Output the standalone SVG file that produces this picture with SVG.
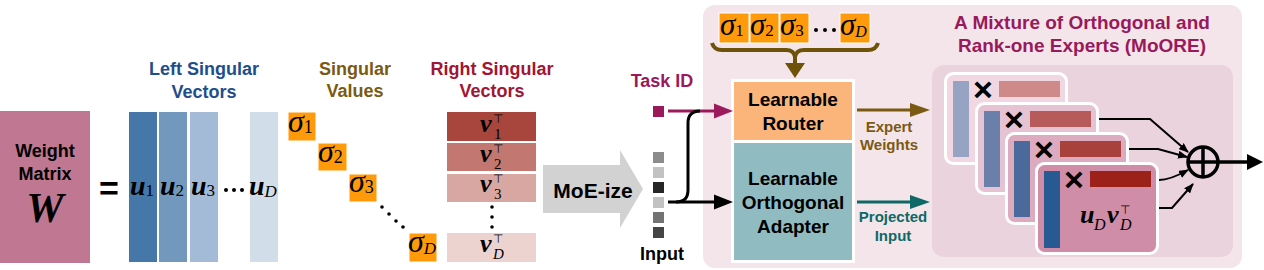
<svg xmlns="http://www.w3.org/2000/svg" width="1264" height="270" viewBox="0 0 1264 270">
<defs>
<style>
.lbl{font-family:"Liberation Sans",Arial,sans-serif;font-weight:bold;text-anchor:middle}
.m{font-family:"Liberation Serif","DejaVu Serif",serif;font-style:italic}
.mb{font-family:"Liberation Serif","DejaVu Serif",serif;font-style:italic;font-weight:bold}
.up{font-style:normal;font-weight:normal}
.itn{font-style:italic;font-weight:normal}
.tp{font-family:"DejaVu Sans",sans-serif;font-size:12px}
.sig{fill:#FF9A0A;stroke:#fff;stroke-width:1}
.mul{font-family:"Liberation Sans",Arial,sans-serif;font-weight:bold;font-size:34px;text-anchor:middle}
.card{stroke:#fff;stroke-width:3}
</style>
<marker id="sm" viewBox="0 0 10 8" markerWidth="10" markerHeight="8" refX="9" refY="4" orient="auto" markerUnits="userSpaceOnUse"><path d="M0,0L10,4L0,8z" fill="#000"/></marker>
</defs>
<rect width="1264" height="270" fill="#fff"/>

<!-- Weight matrix -->
<g id="weight-matrix">
<rect x="0" y="111" width="90" height="152" fill="#C07792"/>
<text class="lbl" x="45" y="157" font-size="18">Weight</text>
<text class="lbl" x="45" y="180" font-size="18">Matrix</text>
<text class="mb" x="45" y="222" font-size="42" text-anchor="middle">W</text>
</g>
<g id="equals"><text class="lbl" x="109" y="200" font-size="34">=</text></g>

<!-- Left singular vectors -->
<g id="left-singular-vectors">
<text class="lbl" x="204" y="75" font-size="18" fill="#1F4E8C">Left Singular</text>
<text class="lbl" x="204" y="98" font-size="18" fill="#1F4E8C">Vectors</text>
<rect x="129" y="112" width="28" height="150" fill="#4577A8"/>
<rect x="159" y="112" width="28" height="150" fill="#7398BE"/>
<rect x="190" y="112" width="28" height="150" fill="#A3BBD6"/>
<rect x="250" y="112" width="28" height="150" fill="#D1DDE8"/>
<text class="mb" x="130" y="195" font-size="28">u<tspan class="up" font-size="17" dy="1">1</tspan></text>
<text class="mb" x="160" y="195" font-size="28">u<tspan class="up" font-size="17" dy="1">2</tspan></text>
<text class="mb" x="191" y="195" font-size="28">u<tspan class="up" font-size="17" dy="1">3</tspan></text>
<circle cx="226" cy="190" r="2"/><circle cx="234" cy="190" r="2"/><circle cx="242" cy="190" r="2"/>
<text class="mb" x="249" y="195" font-size="28">u<tspan class="itn" font-size="17" dy="2">D</tspan></text>
</g>

<!-- Singular values -->
<g id="singular-values">
<text class="lbl" x="355" y="75" font-size="18" fill="#7A5A12">Singular</text>
<text class="lbl" x="355" y="97" font-size="18" fill="#7A5A12">Values</text>
<rect class="sig" x="288" y="112" width="28" height="29"/>
<rect class="sig" x="318" y="143" width="29" height="28"/>
<rect class="sig" x="349" y="174" width="28" height="28"/>
<rect class="sig" x="409" y="233" width="28" height="29"/>
<text class="m" x="288" y="132" font-size="32">σ<tspan class="up" font-size="18" dy="1">1</tspan></text>
<text class="m" x="318" y="162" font-size="32">σ<tspan class="up" font-size="18" dy="1">2</tspan></text>
<text class="m" x="349" y="192" font-size="32">σ<tspan class="up" font-size="18" dy="1">3</tspan></text>
<text class="m" x="408" y="252" font-size="32">σ<tspan font-size="17" dy="2">D</tspan></text>
<circle cx="382" cy="207" r="1.8"/><circle cx="389" cy="214" r="1.8"/><circle cx="396" cy="221" r="1.8"/><circle cx="403" cy="227" r="1.8"/>
</g>

<!-- Right singular vectors -->
<g id="right-singular-vectors">
<text class="lbl" x="492" y="75" font-size="18" fill="#A31532">Right Singular</text>
<text class="lbl" x="492" y="97" font-size="18" fill="#A31532">Vectors</text>
<rect x="447" y="112" width="89" height="29" fill="#A8463E"/>
<rect x="447" y="143" width="89" height="28" fill="#C27870"/>
<rect x="447" y="174" width="89" height="28" fill="#D8A7A1"/>
<rect x="447" y="233" width="89" height="29" fill="#EDD3D0"/>
<text class="mb" x="480" y="132" font-size="26">v</text><text class="tp" x="493" y="123">⊤</text><text class="m up" x="494" y="139" font-size="15">1</text>
<text class="mb" x="480" y="162" font-size="26">v</text><text class="tp" x="493" y="153">⊤</text><text class="m up" x="494" y="169" font-size="15">2</text>
<text class="mb" x="480" y="192" font-size="26">v</text><text class="tp" x="493" y="183">⊤</text><text class="m up" x="494" y="199" font-size="15">3</text>
<circle cx="492" cy="207" r="1.8"/><circle cx="492" cy="217" r="1.8"/><circle cx="492" cy="227" r="1.8"/>
<text class="mb" x="480" y="252" font-size="26">v</text><text class="tp" x="493" y="243">⊤</text><text class="m" x="493" y="259" font-size="15">D</text>
</g>

<!-- MoE-ize arrow -->
<g id="moe-ize">
<polygon points="543,165 620,165 620,150 643,189 620,228 620,213 543,213" fill="#D2D2D2"/>
<text class="lbl" x="593" y="198" font-size="21">MoE-ize</text>
</g>

<!-- Task ID and input -->
<g id="task-id">
<text class="lbl" x="662" y="87" font-size="18" fill="#99195A">Task ID</text>
<rect x="653" y="106" width="11" height="11" fill="#99195A"/>
</g>
<g id="input">
<rect x="653" y="152" width="11" height="11" fill="#8C8C8C"/>
<rect x="653" y="167" width="11" height="11" fill="#C2C2C2"/>
<rect x="653" y="182" width="11" height="11" fill="#262626"/>
<rect x="653" y="197" width="11" height="11" fill="#C2C2C2"/>
<rect x="653" y="212" width="11" height="11" fill="#737373"/>
<rect x="653" y="227" width="11" height="11" fill="#454545"/>
<text class="lbl" x="662" y="260" font-size="18">Input</text>
</g>

<!-- MoORE panel -->
<g id="moore-panel">
<rect x="703" y="5" width="539" height="263" rx="12" fill="#F4E5EB"/>
<text class="lbl" x="1082" y="29" font-size="19" fill="#99195A">A Mixture of Orthogonal and</text>
<text class="lbl" x="1082" y="52" font-size="19" fill="#99195A">Rank-one Experts (MoORE)</text>
</g>

<g id="sigma-row">
<rect class="sig" x="719" y="13" width="30" height="30"/>
<rect class="sig" x="750" y="13" width="29" height="30"/>
<rect class="sig" x="780" y="13" width="29" height="30"/>
<rect class="sig" x="840" y="13" width="30" height="30"/>
<text class="m" x="720" y="35" font-size="31">σ<tspan class="up" font-size="17" dy="1">1</tspan></text>
<text class="m" x="750" y="35" font-size="31">σ<tspan class="up" font-size="17" dy="1">2</tspan></text>
<text class="m" x="780" y="35" font-size="31">σ<tspan class="up" font-size="17" dy="1">3</tspan></text>
<circle cx="816" cy="30" r="2"/><circle cx="825" cy="30" r="2"/><circle cx="834" cy="30" r="2"/>
<text class="m" x="840" y="35" font-size="31">σ<tspan font-size="16" dy="2">D</tspan></text>
<path d="M712,43 Q714,50 722,50 L786,50 Q794,50 795,57 Q796,50 804,50 L868,50 Q876,50 878,43" fill="none" stroke="#6E5208" stroke-width="4"/>
</g>

<g id="router-adapter">
<rect x="731" y="79" width="124" height="184" fill="#fff"/>
</g>
<g id="router">
<rect x="734" y="82" width="118" height="58" fill="#FBB47A"/>
<text class="lbl" x="793" y="106" font-size="19">Learnable</text>
<text class="lbl" x="793" y="130" font-size="19">Router</text>
</g>
<g id="adapter">
<rect x="734" y="143" width="118" height="117" fill="#90BCC1"/>
<text class="lbl" x="793" y="185" font-size="19">Learnable</text>
<text class="lbl" x="793" y="209" font-size="19">Orthogonal</text>
<text class="lbl" x="793" y="233" font-size="19">Adapter</text>
</g>

<g id="edge-labels">
<text class="lbl" x="889" y="132" font-size="15" fill="#7A5A12">Expert</text>
<text class="lbl" x="889" y="150" font-size="15" fill="#7A5A12">Weights</text>
<text class="lbl" x="893" y="222" font-size="15" fill="#0E6966">Projected</text>
<text class="lbl" x="893" y="241" font-size="15" fill="#0E6966">Input</text>
</g>

<!-- Experts -->
<g id="experts-panel">
<rect x="932" y="65" width="301" height="192" rx="12" fill="#EBD3DE"/>
</g>
<g id="expert-1">
<rect class="card" x="945.5" y="73.5" width="121" height="90" rx="8" fill="#F0D7E2"/>
<rect x="953" y="81" width="16" height="76" fill="#97A3C2"/>
<text class="mul" x="983" y="101">×</text>
<rect x="999" y="81" width="61" height="16" fill="#CE8A89"/>
</g>
<g id="expert-2">
<rect class="card" x="976.5" y="103.5" width="121" height="90" rx="8" fill="#E6C3D2"/>
<rect x="984" y="111" width="16" height="76" fill="#6A7FAA"/>
<text class="mul" x="1014" y="131">×</text>
<rect x="1030" y="111" width="61" height="16" fill="#B65A5A"/>
</g>
<g id="expert-3">
<rect class="card" x="1006.5" y="133.5" width="121" height="90" rx="8" fill="#DCABBF"/>
<rect x="1014" y="141" width="16" height="76" fill="#4A6A9B"/>
<text class="mul" x="1044" y="161">×</text>
<rect x="1060" y="141" width="61" height="16" fill="#A8413B"/>
</g>
<g id="expert-4">
<rect class="card" x="1036.5" y="163.5" width="121" height="90" rx="8" fill="#CF8DA8"/>
<rect x="1044" y="171" width="16" height="77" fill="#275A93"/>
<text class="mul" x="1074" y="191">×</text>
<rect x="1090" y="171" width="61" height="16" fill="#9B2119"/>
<text class="mb" x="1080" y="223" font-size="26">u</text><text class="m" x="1094" y="230" font-size="16">D</text>
<text class="mb" x="1107" y="223" font-size="26">v</text><text class="tp" x="1120" y="214">⊤</text><text class="m" x="1120" y="230" font-size="16">D</text>
</g>
<g id="sum">
<circle cx="1203" cy="162" r="15" fill="none" stroke="#000" stroke-width="3.5"/>
<line x1="1203" y1="147" x2="1203" y2="177" stroke="#000" stroke-width="3.5"/>
<line x1="1188" y1="162" x2="1218" y2="162" stroke="#000" stroke-width="3.5"/>
</g>

<!-- Connectors -->
<g id="connectors" fill="none">
<line x1="668" y1="111" x2="716" y2="111" stroke="#9C1A5B" stroke-width="3"/>
<polygon points="714,103.5 733,111 714,118.5" fill="#9C1A5B"/>
<path d="M676,202 Q688,202 688,190 L688,123 Q688,111 700,111" stroke="#000" stroke-width="3"/>
<line x1="668" y1="202" x2="716" y2="202" stroke="#000" stroke-width="3"/>
<polygon points="714,194.5 733,202 714,209.5" fill="#000"/>
<line x1="795" y1="56" x2="795" y2="65" stroke="#6E5208" stroke-width="4"/>
<polygon points="785,63 805,63 795,78" fill="#6E5208"/>
<line x1="857" y1="110" x2="912" y2="110" stroke="#7A5A12" stroke-width="3"/>
<polygon points="910,103 930,110 910,117" fill="#7A5A12"/>
<line x1="857" y1="202" x2="912" y2="202" stroke="#0E6966" stroke-width="3"/>
<polygon points="910,195 930,202 910,209" fill="#0E6966"/>
<path d="M1099,119 L1150,119 L1188,152" stroke="#000" stroke-width="2" marker-end="url(#sm)"/>
<path d="M1129,149 L1158,149 L1187,157" stroke="#000" stroke-width="2" marker-end="url(#sm)"/>
<path d="M1159,180 Q1170,180 1188,170" stroke="#000" stroke-width="2" marker-end="url(#sm)"/>
<path d="M1159,208 L1172,208 L1193,184" stroke="#000" stroke-width="2" marker-end="url(#sm)"/>
<line x1="1218" y1="162" x2="1250" y2="162" stroke="#000" stroke-width="3.5"/>
<polygon points="1247,154 1263,162 1247,170" fill="#000"/>
</g>
</svg>
